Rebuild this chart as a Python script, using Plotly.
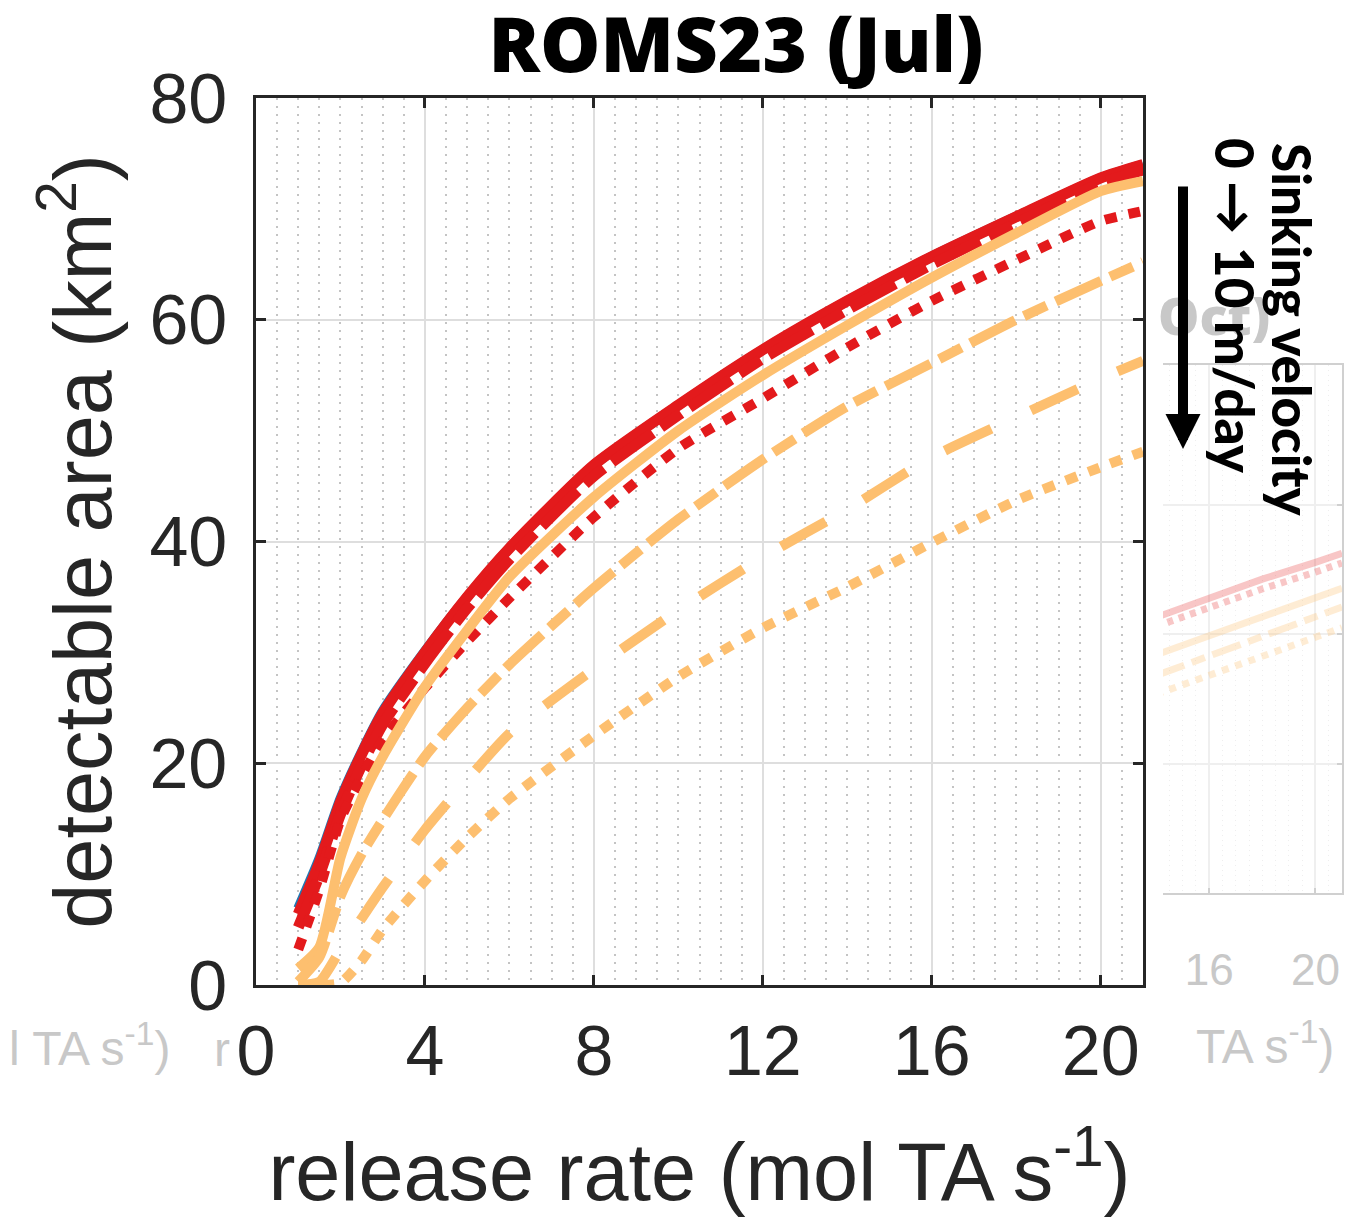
import plotly.graph_objects as go

# ---------------- data ----------------
release_rate = [1, 1.5, 2, 2.5, 3, 4, 5, 6, 8, 10, 12, 14, 16, 18, 20, 21]

blue_solid      = [6.9, 11.4, 16.8, 21.0, 24.7, 30.1, 35.0, 39.4, 46.9, 52.3, 57.3, 61.7, 65.7, 69.3, 72.8, 74.0]
red_solid       = [6.4, 11.0, 16.5, 20.8, 24.5, 30.0, 35.0, 39.4, 46.9, 52.3, 57.3, 61.7, 65.7, 69.3, 72.8, 74.0]
red_dashdot     = [5.2, 9.9, 15.4, 19.8, 23.5, 29.0, 34.0, 38.4, 45.9, 51.4, 56.5, 60.9, 65.0, 68.7, 72.3, 73.5]
red_dotted      = [3.2, 8.6, 14.9, 18.8, 22.1, 26.8, 31.0, 34.9, 42.2, 48.4, 52.9, 57.5, 61.7, 65.4, 68.9, 69.8]
orange_solid    = [1.5, 3.4, 11.5, 16.8, 20.6, 26.9, 32.0, 36.8, 44.0, 50.0, 55.0, 59.5, 63.8, 67.8, 71.6, 72.5]
orange_dashdot  = [0.3, 2.5, 8.0, 11.8, 14.9, 20.6, 25.0, 28.9, 35.8, 42.0, 47.4, 52.2, 56.1, 60.0, 63.5, 65.2]
orange_longdash = [0.0, 0.3, 3.2, 6.0, 8.8, 14.0, 18.5, 22.7, 28.5, 33.8, 38.6, 42.9, 47.6, 51.2, 54.7, 56.3]
orange_dotted   = [0.0, 0.0, 0.2, 2.2, 5.0, 9.4, 13.3, 16.8, 22.5, 27.8, 32.2, 35.9, 39.9, 43.7, 46.7, 48.1]

x_ticks = [0, 4, 8, 12, 16, 20]
y_ticks = [0, 20, 40, 60, 80]

# faded neighbouring panel (partly visible on the right)
ghost_rate        = [14, 16, 18, 20, 21]
ghost_red         = [42.6, 45.6, 48.5, 51.1, 52.5]
ghost_red_dot     = [41.2, 44.1, 47.0, 49.6, 51.0]
ghost_orange      = [36.8, 39.8, 42.7, 45.6, 47.1]
ghost_orange_dash = [33.6, 36.6, 39.5, 42.6, 44.2]
ghost_orange_dot  = [30.7, 33.6, 36.4, 39.5, 41.0]
ghost_x_ticks = [16, 20]

# ---------------- styling ----------------
W, H = 1358, 1217
RED = "#e31a1c"
ORANGE = "#fdbf6f"
BLUE = "#1f78b4"
INK = "#262626"
GHOST_TXT = "#c8c8c8"

DASHDOT = "50px,10px,25px,10px"
LONGDASH = "51px,44px"
DOT = "12px,12px"


def px(xp):
    return xp / W


def py(yp):
    return 1 - yp / H


fig = go.Figure()

# ghost panel traces
for vals, col, dash in [
    (ghost_red, "rgba(227,26,28,0.25)", "solid"),
    (ghost_red_dot, "rgba(227,26,28,0.25)", "6px,6px"),
    (ghost_orange, "rgba(253,191,111,0.30)", "solid"),
    (ghost_orange_dash, "rgba(253,191,111,0.30)", "30px,8px,14px,8px"),
    (ghost_orange_dot, "rgba(253,191,111,0.30)", "7px,7px"),
]:
    fig.add_trace(go.Scatter(x=ghost_rate, y=vals, mode="lines",
                             line=dict(color=col, width=7, dash=dash),
                             xaxis="x2", yaxis="y2", showlegend=False,
                             hoverinfo="skip"))

# main traces
series = [
    (blue_solid, BLUE, "solid", 10),
    (red_solid, RED, "solid", 11),
    (red_dashdot, RED, DASHDOT, 11),
    (red_dotted, RED, DOT, 10),
    (orange_solid, ORANGE, "solid", 10),
    (orange_dashdot, ORANGE, DASHDOT, 10),
    (orange_longdash, ORANGE, LONGDASH, 10),
    (orange_dotted, ORANGE, DOT, 10),
]
for vals, col, dash, w in series:
    fig.add_trace(go.Scatter(x=release_rate, y=vals, mode="lines",
                             line=dict(color=col, width=w, dash=dash,
                                       shape="spline", smoothing=0.6),
                             xaxis="x", yaxis="y", showlegend=False))

tick_font = dict(family="Liberation Sans, Arial, sans-serif", size=70, color=INK)
title_font = dict(family="Liberation Sans, Arial, sans-serif", size=81, color=INK)

fig.update_layout(
    width=W, height=H,
    margin=dict(l=0, r=0, t=0, b=0, autoexpand=False),
    paper_bgcolor="white", plot_bgcolor="white",
    showlegend=False,
    title=dict(text="ROMS23 (Jul)", x=px(736), xanchor="center",
               y=py(45), yanchor="middle", xref="paper", yref="container",
               font=dict(family="Open Sans, sans-serif", size=76, weight=800, color="black")),
    xaxis=dict(
        domain=[px(256), px(1143)], range=[0, 21], tickvals=x_ticks,
        ticks="inside", ticklen=10, tickwidth=2.5, tickcolor=INK,
        showline=True, linecolor=INK, linewidth=2.5, mirror="ticks",
        showgrid=True, gridcolor="#dedede", gridwidth=2, zeroline=False,
        minor=dict(dtick=0.5, showgrid=True, griddash="2px,6px",
                   gridcolor="#c4c4c4", gridwidth=2, ticks=""),
        tickfont=tick_font, ticklabelstandoff=3, automargin=False,
        title=dict(text="release rate (mol TA s<sup>-1</sup>)", font=title_font, standoff=62),
        anchor="y",
    ),
    yaxis=dict(
        domain=[py(985), py(98)], range=[0, 80], tickvals=y_ticks,
        ticks="inside", ticklen=10, tickwidth=2.5, tickcolor=INK,
        showline=True, linecolor=INK, linewidth=2.5, mirror="ticks",
        showgrid=True, gridcolor="#dedede", gridwidth=2, zeroline=False,
        tickfont=tick_font, ticklabelstandoff=12, automargin=False,
        title=dict(text="detectable area (km<sup>2</sup>)", font=title_font, standoff=12),
        anchor="x",
    ),
    xaxis2=dict(
        domain=[px(1163), px(1342)], range=[14.26, 21], tickvals=ghost_x_ticks,
        ticks="inside", ticklen=5, tickwidth=1.5, tickcolor="#d0d0d0",
        showline=True, linecolor="#d0d0d0", linewidth=2, mirror=True,
        showgrid=True, gridcolor="#efefef", gridwidth=1.5, zeroline=False,
        minor=dict(dtick=0.5, showgrid=True, griddash="1px,4px",
                   gridcolor="#eeeeee", gridwidth=1),
        tickfont=dict(family="Liberation Sans, Arial, sans-serif", size=44, color=GHOST_TXT),
        ticklabelstandoff=37, automargin=False, anchor="y2",
    ),
    yaxis2=dict(
        domain=[py(893), py(365)], range=[0, 81.6], tickvals=[20, 40, 60],
        ticks="inside", ticklen=5, tickwidth=1.5, tickcolor="#d0d0d0",
        showline=True, linecolor="#d0d0d0", linewidth=2, side="right",
        showgrid=True, gridcolor="#efefef", gridwidth=1.5, zeroline=False,
        showticklabels=False, automargin=False, anchor="x2",
    ),
)

ghost_font = dict(family="Liberation Sans, Arial, sans-serif", size=48, color=GHOST_TXT)
P = dict(xref="paper", yref="paper", showarrow=False)
annotations = [
    # faded neighbouring-panel text
    dict(text="l TA s<sup>-1</sup>)", x=px(172), y=py(1045), xanchor="right", yanchor="middle",
         font=ghost_font, **P),
    dict(text="r", x=px(222), y=py(1049), xanchor="center", yanchor="middle",
         font=ghost_font, **P),
    dict(text="TA s<sup>-1</sup>)", x=px(1336), y=py(1043), xanchor="right", yanchor="middle",
         font=ghost_font, **P),
    dict(text="Oct)", x=px(1156), y=py(314), xanchor="left", yanchor="middle",
         font=dict(family="Open Sans, sans-serif", size=52, weight=800, color=GHOST_TXT), **P),
    # sinking velocity annotation
    dict(text="Sinking velocity", x=px(1292), y=py(330), xanchor="center", yanchor="middle",
         textangle=90, font=dict(family="Lato, sans-serif", size=53, weight=900, color="black"), **P),
    dict(text="0 → 10 m/day", x=px(1235), y=py(306), xanchor="center", yanchor="middle",
         textangle=90, font=dict(family="Lato, sans-serif", size=53, weight=900, color="black"), **P),
    dict(text="", x=px(1183), y=py(449), xref="paper", yref="paper",
         ax=0, ay=-264, axref="pixel", ayref="pixel",
         showarrow=True, arrowhead=2, arrowsize=0.7, arrowwidth=10, arrowcolor="black"),
]
fig.update_layout(annotations=annotations)

fig.write_html("out.html")
